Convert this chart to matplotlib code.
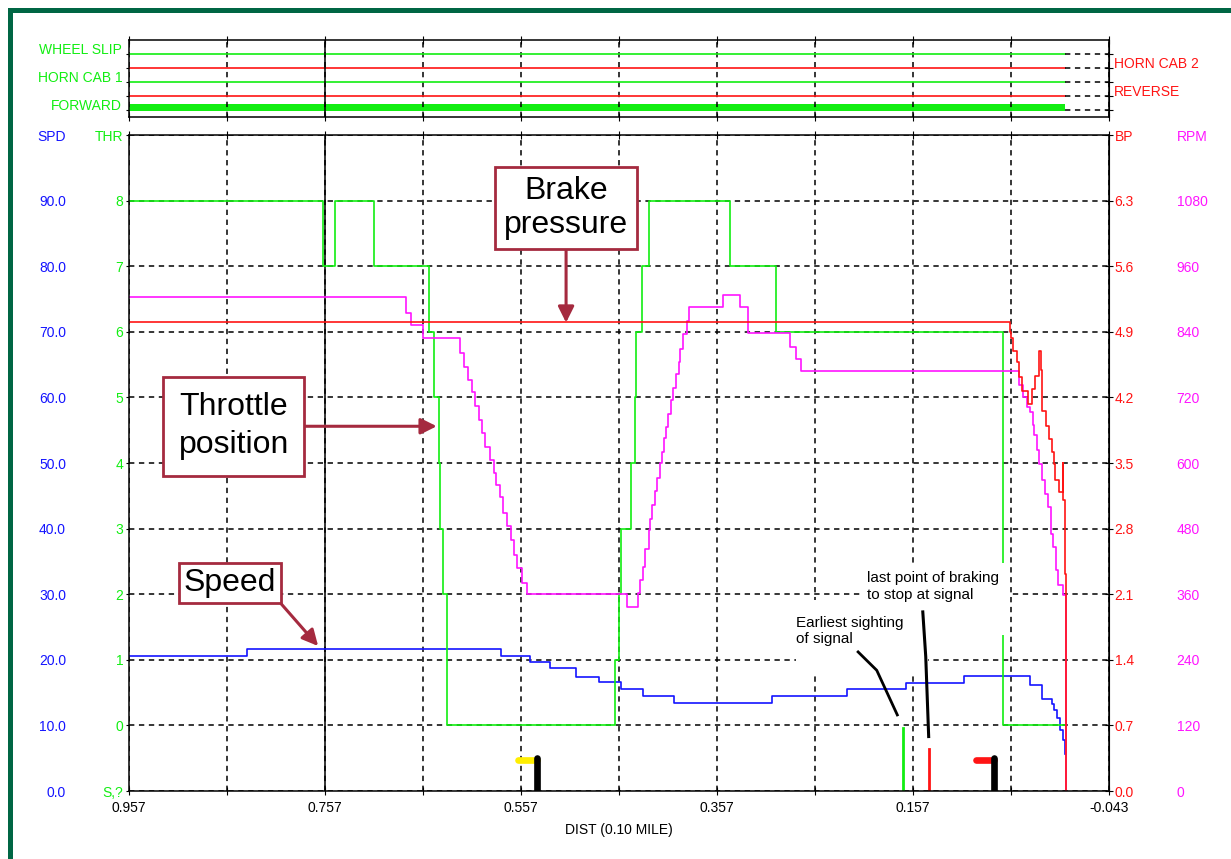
import matplotlib.pyplot as plt
from matplotlib.patches import Rectangle

# путь в десятых долях мили (ось идёт от 0.957 к -0.043)
dist_spd = [0.957, 0.837, 0.577, 0.548, 0.527, 0.501, 0.477, 0.455, 0.432, 0.401, 0.301,
            0.224, 0.164, 0.105, 0.038, 0.025, 0.015, 0.013, 0.010, 0.007, 0.004, 0.002]
spd = [20.6, 21.7, 20.6, 19.6, 18.8, 17.4, 16.6, 15.6, 14.5, 13.4, 14.5,
       15.6, 16.4, 17.5, 16.1, 14.1, 13.3, 12.3, 11.1, 9.3, 7.8, 5.7]

dist_thr = [0.957, 0.759, 0.747, 0.707, 0.651, 0.646, 0.641, 0.640, 0.637, 0.633, 0.632,
            0.461, 0.457, 0.455, 0.445, 0.441, 0.440, 0.434, 0.426, 0.344, 0.297, 0.065, 0.002]
thr = [8, 7, 8, 7, 6, 5, 4, 3, 2, 1, 0,
       1, 2, 3, 4, 5, 6, 7, 8, 7, 6, 0, 0]

dist_bp = [0.957, 0.0580, 0.0567, 0.0553, 0.0506, 0.0485, 0.0455, 0.0394, 0.0353, 0.0325,
           0.0281, 0.0267, 0.0251, 0.0216, 0.0179, 0.0155, 0.0128, 0.0121, 0.0077, 0.0042,
           0.0036, 0.0019, 0.0009]
bp = [5.00, 4.90, 4.83, 4.70, 4.58, 4.42, 4.27, 4.13, 4.29, 4.43,
      4.70, 4.49, 4.06, 3.89, 3.76, 3.62, 3.49, 3.32, 3.19, 3.50,
      3.10, 2.32, 0.0]

dist_rpm = [0.957, 0.674, 0.669, 0.657, 0.619, 0.615, 0.611, 0.607, 0.604, 0.600,
            0.597, 0.594, 0.589, 0.585, 0.582, 0.578, 0.575, 0.571, 0.567, 0.564,
            0.561, 0.556, 0.551, 0.449, 0.438, 0.436, 0.433, 0.430, 0.426, 0.425,
            0.423, 0.420, 0.418, 0.415, 0.413, 0.411, 0.409, 0.407, 0.404, 0.402,
            0.399, 0.396, 0.395, 0.392, 0.388, 0.386, 0.351, 0.334, 0.325, 0.282,
            0.276, 0.271, 0.0485, 0.0451, 0.0410, 0.0376, 0.0349, 0.0335, 0.0308, 0.0281,
            0.0254, 0.0223, 0.0189, 0.0165, 0.0138, 0.0111, 0.0087, 0.0042, 0.0009]
rpm = [903, 874, 853, 829, 801, 775, 751, 730, 705, 678,
       655, 629, 606, 582, 560, 537, 509, 484, 460, 431,
       408, 381, 360, 336, 362, 386, 410, 442, 477, 498,
       523, 549, 573, 600, 620, 645, 665, 690, 715, 738,
       762, 785, 809, 836, 859, 885, 908, 885, 838, 813,
       791, 768, 742, 721, 702, 693, 669, 651, 623, 599,
       568, 544, 520, 471, 446, 404, 376, 358, 0]

# дискретные каналы в верхней полосе
strip_names = ['WHEEL SLIP', 'HORN CAB 2', 'HORN CAB 1', 'REVERSE', 'FORWARD']
strip_on = [False, False, False, False, True]
strip_end = 0.002

# события внизу графика
event_dist = [0.167, 0.141]
event_height = [9.6, 6.4]
signal_dist = [0.541, 0.074]
cursor_dist = 0.757

GREEN = '#12ee12'
RED = '#ff1414'
MAG = '#ff14ff'
BLUE = '#1414ff'
BOX = '#a52a3f'
DASH = (0, (3.5, 3))

thr_to_spd = lambda t: 10 * t + 10
bp_to_spd = lambda b: b / 0.07
rpm_to_spd = lambda r: r / 12

plt.rcParams['font.family'] = ['Liberation Sans', 'DejaVu Sans']
plt.rcParams['font.size'] = 10

fig = plt.figure(figsize=(12.31, 8.59), dpi=100)
ax = fig.add_axes([0.10479, 0.07916, 0.79610, 0.76368])
ax_top = fig.add_axes([0.10479, 0.86345, 0.79610, 0.08999])

xt = [round(0.957 - 0.1 * k, 3) for k in range(11)]
xl = [f'{v:.3f}' if k % 2 == 0 else '' for k, v in enumerate(xt)]

#верхняя полоса
ax_top.set_xlim(0.957, -0.043)
ax_top.set_ylim(5.52, 0)
for i, name in enumerate(strip_names):
    lvl = i + 1
    col = GREEN if i % 2 == 0 else RED
    if strip_on[i]:
        ax_top.fill_between([0.957, strip_end], lvl - 0.45, lvl + 0.05, color=col, lw=0)
    else:
        ax_top.plot([0.957, strip_end], [lvl, lvl], color=col, lw=1.2)
    ax_top.plot([strip_end, -0.043], [lvl, lvl], color='black', ls=DASH, lw=1.1)
    if i % 2 == 0:
        ax_top.text(-0.007, lvl - 0.3, name, transform=ax_top.get_yaxis_transform(),
                    ha='right', va='center', color=col, fontsize=10)
    else:
        ax_top.text(1.005, lvl - 0.3, name, transform=ax_top.get_yaxis_transform(),
                    ha='left', va='center', color=col, fontsize=10)
ax_top.set_xticks(xt)
ax_top.tick_params(axis='x', direction='inout', length=6, top=True, labelbottom=False)
ax_top.set_yticks([1, 2, 3, 4, 5])
ax_top.tick_params(axis='y', direction='out', length=2.5, labelleft=False)
ax_top.grid(True, axis='x', color='black', ls=DASH, lw=1.1)
ax_top.axvline(cursor_dist, color='black', lw=1.1)
sec_top = ax_top.secondary_yaxis('right')
sec_top.set_yticks([1, 2, 3, 4, 5], labels=[''] * 5)
sec_top.tick_params(axis='y', direction='inout', length=6)

#основной график
ax.set_xlim(0.957, -0.043)
ax.set_ylim(0, 100)
ax.step(dist_spd, spd, where='post', color=BLUE, lw=1.2, zorder=2)
ax.step(dist_thr, [thr_to_spd(t) for t in thr], where='post', color=GREEN, lw=1.2, zorder=2)
ax.step(dist_rpm, [rpm_to_spd(r) for r in rpm], where='post', color=MAG, lw=1.2, zorder=2)
ax.step(dist_bp, [bp_to_spd(b) for b in bp], where='post', color=RED, lw=1.2, zorder=2)

for d, h, c in zip(event_dist, event_height, [GREEN, RED]):
    ax.plot([d, d], [0, h], color=c, lw=2, zorder=2)
for d, c in zip(signal_dist, ['#ffee00', RED]):
    ax.plot([d + 0.019, d], [4.8, 4.8], color=c, lw=4.8, solid_capstyle='round', zorder=3)
    ax.plot([d, d], [0, 5.0], color='black', lw=4.8, solid_capstyle='round', zorder=3)

ax.set_xticks(xt, labels=xl)
ax.tick_params(axis='x', direction='inout', length=6, top=True, pad=4)
ax.set_xlabel('DIST (0.10 MILE)', labelpad=6)
ax.grid(True, color='black', ls=DASH, lw=1.1, zorder=1)
ax.axvline(cursor_dist, color='black', lw=1.1, zorder=1)

yt = list(range(0, 101, 10))
ax.set_yticks(yt, labels=['S,?'] + [str(t) for t in range(9)] + ['THR'])
ax.tick_params(axis='y', direction='out', length=2.5, pad=1.5, labelcolor=GREEN)

sec_spd = ax.secondary_yaxis(-0.0643)
sec_spd.set_yticks(yt, labels=[f'{v:.1f}' for v in yt[:-1]] + ['SPD'])
sec_spd.tick_params(axis='y', length=0, pad=0, labelcolor=BLUE)

sec_bp = ax.secondary_yaxis('right', functions=(lambda s: s * 0.07, bp_to_spd))
bt = [round(0.7 * k, 1) for k in range(11)]
sec_bp.set_yticks(bt, labels=[f'{v:.1f}' for v in bt[:-1]] + ['BP'])
sec_bp.tick_params(axis='y', direction='inout', length=6, pad=1, labelcolor=RED)

sec_rpm = ax.secondary_yaxis(1.0691, functions=(lambda s: s * 12, rpm_to_spd))
rt = list(range(0, 1201, 120))
sec_rpm.set_yticks(rt, labels=[str(v) for v in rt[:-1]] + ['RPM'])
sec_rpm.tick_params(axis='y', length=0, pad=0, labelcolor=MAG)

for s in list(sec_spd.spines.values()) + list(sec_rpm.spines.values()):
    s.set_visible(False)

#подписи
ax.add_patch(Rectangle((0.058, 23.8), 0.151, 10.9, fc='white', ec='none', zorder=3))
ax.add_patch(Rectangle((0.142, 18.1), 0.134, 11.0, fc='white', ec='none', zorder=3))
ax.text(0.204, 31.2, 'last point of braking\nto stop at signal', ha='left', va='center',
        fontsize=11, linespacing=1.25, zorder=4)
ax.text(0.276, 24.4, 'Earliest sighting\nof signal', ha='left', va='center',
        fontsize=11, linespacing=1.25, zorder=4)
ax.plot([0.213, 0.194, 0.173], [21.2, 18.4, 11.6], color='black', lw=2, zorder=5)
ax.plot([0.147, 0.144, 0.141], [27.3, 20.5, 8.3], color='black', lw=2.2, zorder=5)

arrow = dict(arrowstyle='-|>', color=BOX, lw=2.2, mutation_scale=24, shrinkA=0, shrinkB=0)
ax.annotate('Brake\npressure', xy=(0.511, 71.4), xytext=(0.511, 88.9), ha='center', va='center',
            fontsize=23, linespacing=1.2, zorder=6,
            bbox=dict(boxstyle='square,pad=0.28', fc='white', ec=BOX, lw=2),
            arrowprops=arrow)
ax.annotate('Throttle\nposition', xy=(0.643, 55.6), xytext=(0.850, 55.6), ha='center', va='center',
            fontsize=23, linespacing=1.35, zorder=6,
            bbox=dict(boxstyle='square,pad=0.48', fc='white', ec=BOX, lw=2),
            arrowprops=arrow)
ax.annotate('Speed', xy=(0.764, 22.1), xytext=(0.854, 31.7), ha='center', va='center',
            fontsize=23, zorder=6,
            bbox=dict(boxstyle='square,pad=0.15', fc='white', ec=BOX, lw=2),
            arrowprops=dict(arrow, relpos=(1, 0)))

for a in (ax, ax_top):
    for s in a.spines.values():
        s.set_linewidth(1.1)

fig.add_artist(Rectangle((9.5 / 1231, -0.01), 2, 1 - 9.5 / 859 + 0.01, transform=fig.transFigure,
                         fill=False, ec='#006644', lw=3.6))

fig.savefig('out.png', dpi=100)
